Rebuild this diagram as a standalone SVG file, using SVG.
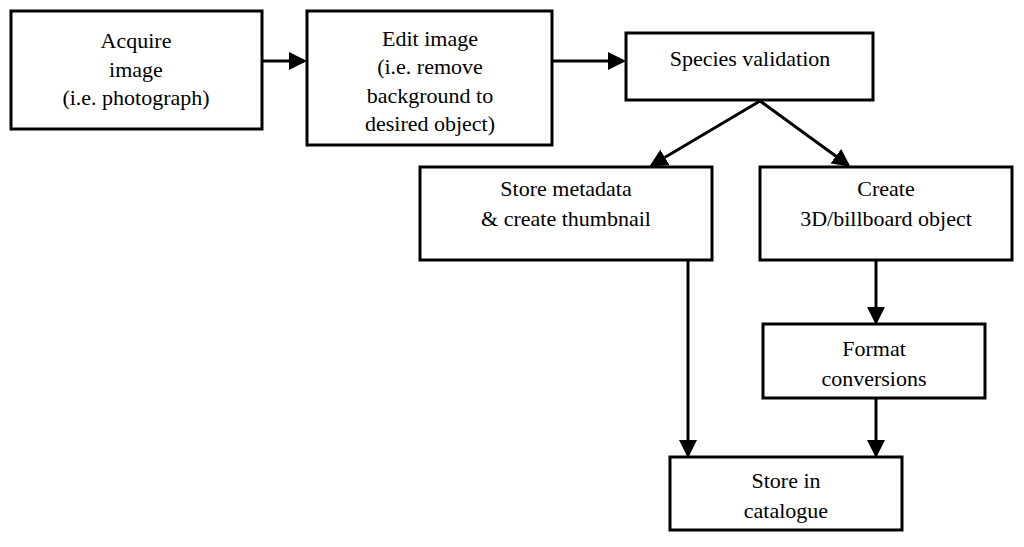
<svg xmlns="http://www.w3.org/2000/svg" width="1024" height="547" viewBox="0 0 1024 547">
<style>
rect{fill:#fff;stroke:#000;stroke-width:3}
text{font-family:'Liberation Serif','Times New Roman','DejaVu Serif',serif;font-size:22px;text-anchor:middle;fill:#000}
.c line{stroke:#000;stroke-width:3;marker-end:url(#a)}
</style>
<defs><marker id="a" markerWidth="6" markerHeight="6" refX="5" refY="3" orient="auto"><path d="M0,0L6,3L0,6z" fill="#000"/></marker></defs>
<rect width="1024" height="547" style="stroke:none"/>
<g id="n1"><rect x="11" y="11" width="251" height="118"/><text x="136" y="48">Acquire</text><text x="136" y="77">image</text><text x="136" y="105">(i.e. photograph)</text></g>
<g id="n2"><rect x="307" y="11" width="245" height="134"/><text x="430" y="46">Edit image</text><text x="430" y="74">(i.e. remove</text><text x="430" y="103">background to</text><text x="430" y="131">desired object)</text></g>
<g id="n3"><rect x="626" y="33" width="247" height="67"/><text x="750" y="66">Species validation</text></g>
<g id="n4"><rect x="420" y="167" width="292" height="93"/><text x="566" y="196">Store metadata</text><text x="566" y="226">&amp; create thumbnail</text></g>
<g id="n5"><rect x="760" y="167" width="252" height="93"/><text x="886" y="196">Create</text><text x="886" y="226">3D/billboard object</text></g>
<g id="n6"><rect x="763" y="324" width="222" height="74"/><text x="874" y="356">Format</text><text x="874" y="386">conversions</text></g>
<g id="n7"><rect x="670" y="457" width="232" height="73"/><text x="786" y="488">Store in</text><text x="786" y="518">catalogue</text></g>
<g class="c">
<line x1="262" y1="61" x2="304" y2="61"/>
<line x1="552" y1="61" x2="623" y2="61"/>
<line x1="760" y1="101" x2="652" y2="165"/>
<line x1="760" y1="101" x2="848" y2="165"/>
<line x1="688" y1="260" x2="688" y2="455"/>
<line x1="876" y1="260" x2="876" y2="322"/>
<line x1="876" y1="398" x2="876" y2="455"/>
</g>
</svg>
